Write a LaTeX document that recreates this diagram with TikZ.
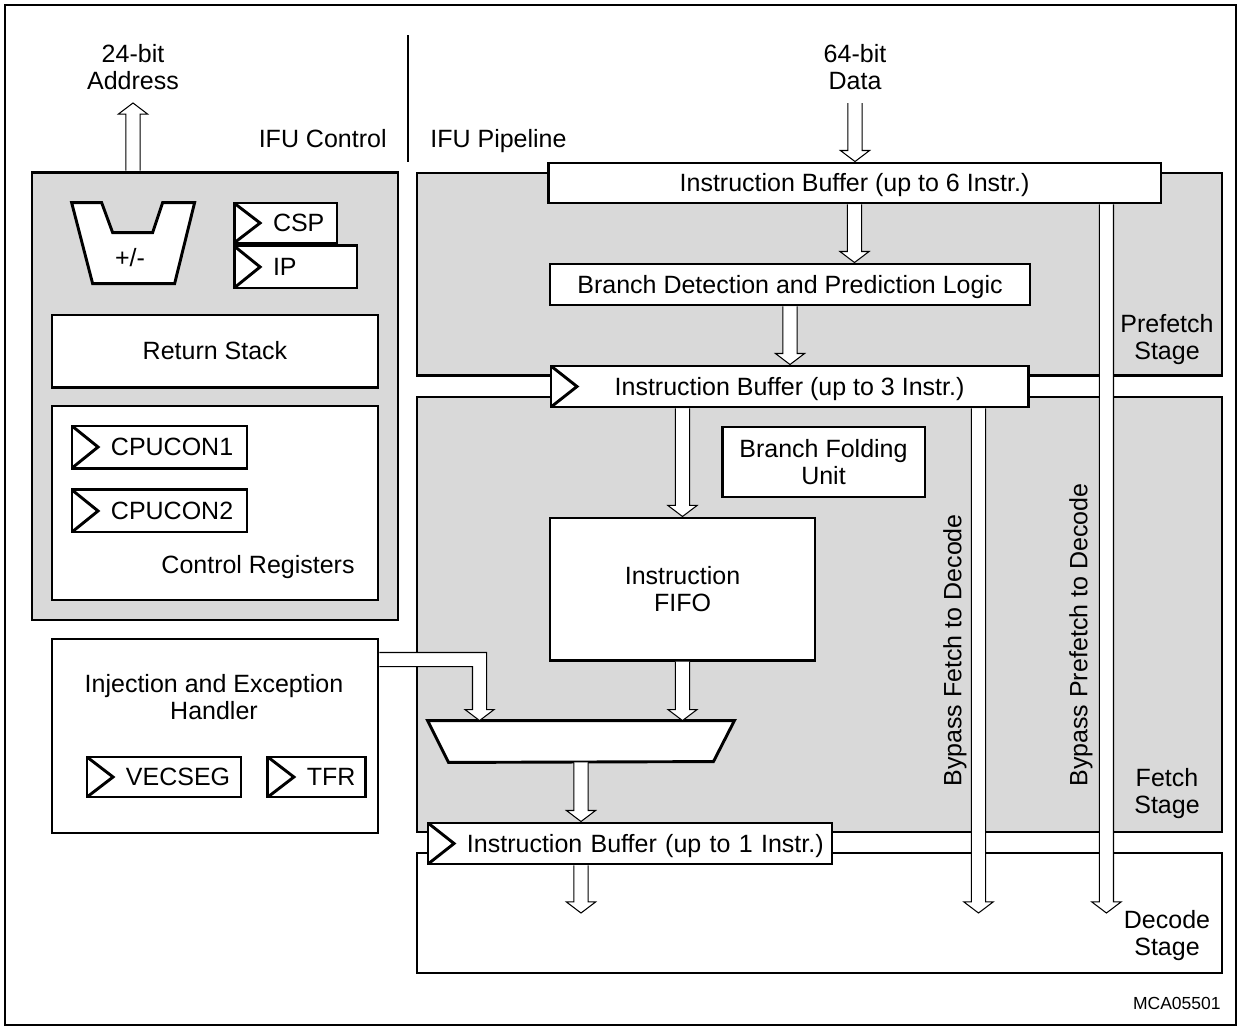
\documentclass[tikz,border=0pt]{standalone}
\usepackage{fontspec}
\setmainfont{Liberation Sans}
\usetikzlibrary{positioning, calc}

\definecolor{stagegray}{RGB}{217,217,217}

% hollow arrows: x from #1, tip height from #2
\newcommand{\fatdown}[2]{%
  \path[fatarrow] let \p1=#1, \p2=#2 in
    (\x1-3.4pt,\y1) -- (\x1-3.4pt,\y2+5.3pt) -- (\x1-7pt,\y2+5.3pt)
    -- (\x1,\y2) -- (\x1+7pt,\y2+5.3pt) -- (\x1+3.4pt,\y2+5.3pt) -- (\x1+3.4pt,\y1);}
\newcommand{\fatup}[2]{%
  \path[fatarrow] let \p1=#1, \p2=#2 in
    (\x1-3.4pt,\y1) -- (\x1-3.4pt,\y2-5.3pt) -- (\x1-7pt,\y2-5.3pt)
    -- (\x1,\y2) -- (\x1+7pt,\y2-5.3pt) -- (\x1+3.4pt,\y2-5.3pt) -- (\x1+3.4pt,\y1);}

\begin{document}
\begin{tikzpicture}[x=0.48pt, y=-0.48pt,
    font=\fontsize{12}{13}\selectfont,
    blk/.style={draw, line width=1.4pt, fill=white, inner sep=0pt, align=center},
    stage/.style={blk, fill=stagegray},
    oneline/.style={text height=0.85em, text depth=0pt},
    clocked/.style={path picture={\draw[line width=1.4pt]
        (path picture bounding box.north west)
        -- ([xshift=12.5pt]path picture bounding box.west)
        -- (path picture bounding box.south west);}},
    reg/.style={blk, oneline, clocked, text width=#1, align=left,
        execute at begin node={\hspace*{18.7pt}}},
    txt/.style={inner sep=0pt, align=center},
    fatarrow/.style={draw=black, line width=0.5pt, fill=white}
  ]
  \useasboundingbox (0,0) rectangle (1241,1030);
  \draw[line width=0.5pt] (5,5) rectangle (1236,1025);

  % IFU control
  \node[stage, minimum width=175.7pt, minimum height=215pt] (ctrl) at (215,396) {};
  \node[minimum width=59pt, minimum height=38.9pt, inner sep=0pt] (adder) at (133.5,243.5) {};
  \draw[line width=1.4pt, fill=white] (adder.north west) -- ++(30,0) -- ++(11,30) -- ++(40,0)
     -- ++(10,-30) -- ++(32,0) -- ++(-20,81) -- ++(-82,0) -- cycle;
  \node[txt] (addsub) at (130,258) {+/-};
  \node[reg=49.4pt, minimum height=19.2pt] (csp) at (285.5,223) {CSP};
  \node[reg=59pt, minimum height=20.2pt, below=0pt of csp.south west, anchor=north west] (ip) {IP};
  \node[blk, oneline, minimum width=156.5pt, minimum height=34.6pt] (retstack) at (215,351) {Return Stack};
  \node[blk, minimum width=156.5pt, minimum height=93.1pt] (ctrlregs) at (215,503) {};
  \node[reg=84pt, minimum height=20.2pt] (cpucon1) at (159.5,447) {CPUCON1};
  \node[reg=84pt, minimum height=20.2pt, below=9.1pt of cpucon1] (cpucon2) {CPUCON2};
  \node[txt, anchor=base east] (ctrlregtext) at (355,573) {Control Registers};
  \node[blk, minimum width=156.5pt, minimum height=93.1pt] (inject) at (215,736) {};
  \node[txt] (injtext) at (214,697) {Injection and Exception\\Handler};
  \node[reg=73.9pt, minimum height=19.2pt] (vecseg) at (164,777) {VECSEG};
  \node[reg=47pt, minimum height=19.2pt, right=11.5pt of vecseg] (tfr) {TFR};

  \node[txt, anchor=base east] (ctrltitle) at (387,147) {IFU Control};
  \node[txt, anchor=base west] (pipetitle) at (430,147) {IFU Pipeline};
  \draw[line width=0.6pt] (408,35) -- (408,162);
  \node[txt] (addr) at (133,67) {24-bit\\Address};
  \node[txt] (data) at (855,67) {64-bit\\Data};
  \coordinate (addrtip) at (133,103);
  \coordinate (datain) at (855,103);

  % IFU pipeline
  \node[stage, minimum width=386.4pt, minimum height=97pt] (prefetch) at (819.5,274) {};
  \node[stage, minimum width=386.4pt, minimum height=208.8pt] (fetch) at (819.5,614.5) {};
  \node[blk, minimum width=386.4pt, minimum height=57.6pt] (decode) at (819.5,913) {};
  \node[txt] (prefetchtext) at (1167,339.5) {Prefetch\\Stage};
  \node[txt] (fetchtext) at (1167,793.5) {Fetch\\Stage};
  \node[txt] (decodetext) at (1167,935.5) {Decode\\Stage};
  \node[blk, oneline, minimum width=294.2pt, minimum height=19.2pt] (ib6) at (854.5,183) {Instruction Buffer (up to 6 Instr.)};
  \node[blk, oneline, minimum width=230.4pt, minimum height=19.7pt] (bdpl) at (790,284.5) {Branch Detection and Prediction Logic};
  \node[blk, oneline, clocked, minimum width=229pt, minimum height=19.7pt] (ib3) at (789.5,386.5) {Instruction Buffer (up to 3 Instr.)};
  \node[blk, minimum width=97.4pt, minimum height=33.6pt] (bfu) at (823.5,462) {Branch Folding\\Unit};
  \node[blk, minimum width=127.2pt, minimum height=68.2pt] (fifo) at (682.5,589) {Instruction\\FIFO};
  \node[minimum width=146.9pt, minimum height=19.7pt, inner sep=0pt] (mux) at (581,741.5) {};
  \draw[line width=1.4pt, fill=white] (mux.north west) -- (mux.north east) -- ++(-21,41)
     -- ($(mux.south west)+(21,0)$) -- cycle;
  \node[reg=193.9pt, minimum height=19.7pt] (ib1) at (630,843.5) {Instruction Buffer (up to 1 Instr.)};
  \node[txt, rotate=90, anchor=west] (bypassftext) at (955,787) {Bypass Fetch to Decode};
  \node[txt, rotate=90, anchor=west] (bypasspftext) at (1081,787) {Bypass Prefetch to Decode};
  \node[txt, anchor=base east, font=\fontsize{8.4}{10}\selectfont] (docid) at (1221,1009) {MCA05501};

  % hollow arrows
  \fatup{(addrtip |- ctrl.north)}{(addrtip)};
  \fatdown{(datain)}{(ib6.north)};
  \fatdown{(ib6.south)}{(bdpl.north)};
  \fatdown{(bdpl.south)}{(ib3.north)};
  \fatdown{(fifo.north |- ib3.south)}{(fifo.north)};
  \fatdown{(fifo.south)}{(mux.north)};
  \fatdown{(mux.south)}{(ib1.north)};
  \fatdown{(mux.south |- ib1.south)}{(decode.center)};
  \fatdown{($(ib3.south east)+(-51,0)$)}{(decode.center)};
  \fatdown{($(ib6.south east)+(-56,0)$)}{(decode.center)};
  \coordinate (injout) at ($(inject.north east)+(0,22)$);
  \coordinate (injin) at ($(mux.north west)+(52,0)$);
  \path[fatarrow] let \p1=(injout), \p2=(injin) in
    (\x1,\y1+3.4pt) -- (\x2+3.4pt,\y1+3.4pt) -- (\x2+3.4pt,\y2+5.3pt) -- (\x2+7pt,\y2+5.3pt)
    -- (\x2,\y2) -- (\x2-7pt,\y2+5.3pt) -- (\x2-3.4pt,\y2+5.3pt) -- (\x2-3.4pt,\y1-3.4pt)
    -- (\x1,\y1-3.4pt);
\end{tikzpicture}
\end{document}
